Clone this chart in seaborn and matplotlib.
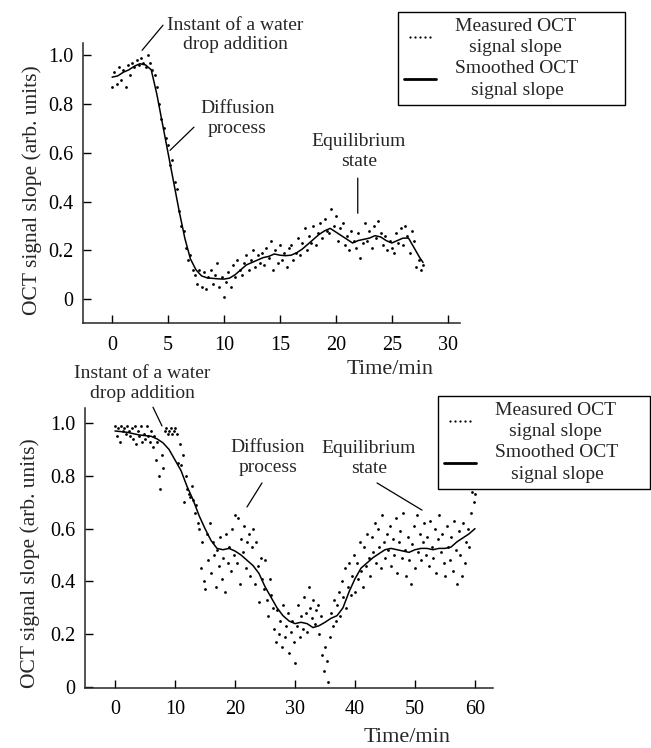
import numpy as np
import pandas as pd
import matplotlib
matplotlib.use("Agg")
import matplotlib.pyplot as plt
from matplotlib.lines import Line2D
from matplotlib.legend_handler import HandlerLine2D
import seaborn as sns

# ---------------- data: top panel ----------------
smooth1_t = [0, 0.5, 1, 1.5, 2, 2.5, 3, 3.5, 4, 4.5, 5, 5.5, 6, 6.5, 7, 7.5, 8, 8.5,
             9, 9.5, 10, 10.5, 11, 11.5, 12, 12.5, 13, 13.5, 14, 14.5, 15, 15.5, 16,
             16.5, 17, 17.5, 18, 18.5, 19, 19.5, 20, 20.5, 21, 21.5, 22, 22.5, 23,
             23.5, 24, 24.5, 25, 25.5, 26, 26.5, 27, 27.5, 27.8]
smooth1_v = [0.91, 0.915, 0.93, 0.94, 0.955, 0.965, 0.96, 0.94, 0.84, 0.72, 0.60,
             0.48, 0.36, 0.25, 0.165, 0.12, 0.095, 0.087, 0.085, 0.083, 0.082,
             0.086, 0.10, 0.12, 0.14, 0.15, 0.16, 0.17, 0.175, 0.185, 0.18, 0.178,
             0.18, 0.19, 0.205, 0.225, 0.245, 0.265, 0.28, 0.29, 0.275, 0.26, 0.245,
             0.23, 0.24, 0.245, 0.25, 0.26, 0.255, 0.24, 0.23, 0.24, 0.25, 0.25,
             0.21, 0.17, 0.15]

meas1_t = [0.0, 0.2, 0.4, 0.6, 0.8, 1.0, 1.2, 1.4, 1.6, 1.8,
           2.0, 2.2, 2.4, 2.6, 2.8, 3.0, 3.2, 3.4, 3.6, 3.8,
           4.0, 4.2, 4.4, 4.6, 4.8, 5.0, 5.2, 5.4, 5.6, 5.8,
           6.0, 6.2, 6.4, 6.6, 6.8, 7.0, 7.2, 7.4, 7.6, 7.8,
           8.0, 8.2, 8.4, 8.6, 8.8, 9.0, 9.2, 9.4, 9.6, 9.8,
           10.0, 10.2, 10.4, 10.6, 10.8, 11.0, 11.2, 11.4, 11.6, 11.8,
           12.0, 12.2, 12.4, 12.6, 12.8, 13.0, 13.2, 13.4, 13.6, 13.8,
           14.0, 14.2, 14.4, 14.6, 14.8, 15.0, 15.2, 15.4, 15.6, 15.8,
           16.0, 16.2, 16.4, 16.6, 16.8, 17.0, 17.2, 17.4, 17.6, 17.8,
           18.0, 18.2, 18.4, 18.6, 18.8, 19.0, 19.2, 19.4, 19.6, 19.8,
           20.0, 20.2, 20.4, 20.6, 20.8, 21.0, 21.2, 21.4, 21.6, 21.8,
           22.0, 22.2, 22.4, 22.6, 22.8, 23.0, 23.2, 23.4, 23.6, 23.8,
           24.0, 24.2, 24.4, 24.6, 24.8, 25.0, 25.2, 25.4, 25.6, 25.8,
           26.0, 26.2, 26.4, 26.6, 26.8, 27.0, 27.2, 27.4, 27.6, 27.8]
meas1_v = [0.87, 0.93, 0.88, 0.95, 0.90, 0.94, 0.87, 0.96, 0.92, 0.97,
           0.95, 0.98, 0.96, 0.99, 0.97, 0.95, 1.00, 0.97, 0.94, 0.92,
           0.87, 0.80, 0.74, 0.70, 0.66, 0.63, 0.55, 0.57, 0.48, 0.45,
           0.36, 0.30, 0.28, 0.21, 0.16, 0.18, 0.12, 0.10, 0.06, 0.12,
           0.05, 0.11, 0.04, 0.09, 0.12, 0.06, 0.10, 0.15, 0.05, 0.09,
           0.01, 0.07, 0.11, 0.05, 0.14, 0.09, 0.16, 0.12, 0.10, 0.15,
           0.18, 0.12, 0.16, 0.20, 0.13, 0.18, 0.15, 0.19, 0.14, 0.21,
           0.17, 0.24, 0.12, 0.20, 0.15, 0.22, 0.16, 0.19, 0.13, 0.21,
           0.22, 0.16, 0.19, 0.25, 0.18, 0.23, 0.29, 0.20, 0.26, 0.23,
           0.30, 0.22, 0.27, 0.31, 0.25, 0.33, 0.28, 0.27, 0.37, 0.30,
           0.34, 0.24, 0.29, 0.31, 0.22, 0.26, 0.20, 0.28, 0.24, 0.21,
           0.27, 0.17, 0.23, 0.31, 0.24, 0.28, 0.21, 0.30, 0.25, 0.32,
           0.27, 0.22, 0.26, 0.20, 0.24, 0.21, 0.19, 0.27, 0.23, 0.29,
           0.22, 0.30, 0.26, 0.19, 0.28, 0.24, 0.13, 0.16, 0.12, 0.14]

# ---------------- data: bottom panel ----------------
smooth2_t = [0, 2, 4, 6, 7, 8, 9, 10, 11, 12, 13, 14, 15, 16, 17, 18, 19, 20, 21,
             22, 23, 24, 25, 26, 27, 28, 29, 30, 31, 32, 33, 34, 35, 36, 37, 38,
             39, 40, 41, 42, 43, 44, 45, 46, 47, 48, 49, 50, 51, 52, 53, 54, 55,
             56, 57, 58, 59, 60]
smooth2_v = [0.97, 0.965, 0.955, 0.95, 0.94, 0.925, 0.90, 0.86, 0.82, 0.76, 0.71,
             0.65, 0.60, 0.555, 0.525, 0.52, 0.525, 0.515, 0.50, 0.48, 0.46, 0.43,
             0.38, 0.34, 0.30, 0.27, 0.25, 0.24, 0.245, 0.24, 0.225, 0.232, 0.245,
             0.26, 0.27, 0.30, 0.36, 0.41, 0.45, 0.47, 0.49, 0.505, 0.52, 0.525,
             0.52, 0.515, 0.51, 0.52, 0.525, 0.525, 0.52, 0.525, 0.525, 0.53, 0.55,
             0.565, 0.58, 0.60]

meas2_t = [0.0, 0.25, 0.5, 0.75, 1.0, 1.25, 1.5, 1.75, 2.0, 2.25,
           2.5, 2.75, 3.0, 3.25, 3.5, 3.75, 4.0, 4.25, 4.5, 4.75,
           5.0, 5.25, 5.5, 5.75, 6.0, 6.25, 6.5, 6.75, 7.0, 7.25,
           7.5, 7.75, 8.0, 8.25, 8.5, 8.75, 9.0, 9.25, 9.5, 9.75,
           10.0, 10.25, 10.5, 10.75, 11.0, 11.25, 11.5, 11.75, 12.0, 12.25,
           12.5, 12.75, 13.0, 13.25, 13.5, 13.75, 14.0, 14.25, 14.5, 14.75,
           15.0, 15.25, 15.5, 15.75, 16.0, 16.25, 16.5, 16.75, 17.0, 17.25,
           17.5, 17.75, 18.0, 18.25, 18.5, 18.75, 19.0, 19.25, 19.5, 19.75,
           20.0, 20.25, 20.5, 20.75, 21.0, 21.25, 21.5, 21.75, 22.0, 22.25,
           22.5, 22.75, 23.0, 23.25, 23.5, 23.75, 24.0, 24.25, 24.5, 24.75,
           25.0, 25.25, 25.5, 25.75, 26.0, 26.25, 26.5, 26.75, 27.0, 27.25,
           27.5, 27.75, 28.0, 28.25, 28.5, 28.75, 29.0, 29.25, 29.5, 29.75,
           30.0, 30.25, 30.5, 30.75, 31.0, 31.25, 31.5, 31.75, 32.0, 32.25,
           32.5, 32.75, 33.0, 33.25, 33.5, 33.75, 34.0, 34.25, 34.5, 34.75,
           35.0, 35.25, 35.5, 35.75, 36.0, 36.25, 36.5, 36.75, 37.0, 37.25,
           37.5, 37.75, 38.0, 38.25, 38.5, 38.75, 39.0, 39.25, 39.5, 39.75,
           40.0, 40.25, 40.5, 40.75, 41.0, 41.25, 41.5, 41.75, 42.0, 42.25,
           42.5, 42.75, 43.0, 43.25, 43.5, 43.75, 44.0, 44.25, 44.5, 44.75,
           45.0, 45.25, 45.5, 45.75, 46.0, 46.25, 46.5, 46.75, 47.0, 47.25,
           47.5, 47.75, 48.0, 48.25, 48.5, 48.75, 49.0, 49.25, 49.5, 49.75,
           50.0, 50.25, 50.5, 50.75, 51.0, 51.25, 51.5, 51.75, 52.0, 52.25,
           52.5, 52.75, 53.0, 53.25, 53.5, 53.75, 54.0, 54.25, 54.5, 54.75,
           55.0, 55.25, 55.5, 55.75, 56.0, 56.25, 56.5, 56.75, 57.0, 57.25,
           57.5, 57.75, 58.0, 58.25, 58.5, 58.75, 59.0, 59.25, 59.5, 59.75,
           60.0]
meas2_v = [0.99, 0.95, 0.98, 0.93, 0.99, 0.97, 0.98, 0.96, 0.99, 0.97,
           0.95, 0.98, 0.94, 0.99, 0.92, 0.97, 0.95, 0.99, 0.93, 0.96,
           0.94, 0.99, 0.95, 0.93, 0.97, 0.91, 0.95, 0.86, 0.93, 0.80,
           0.75, 0.88, 0.83, 0.97, 0.98, 0.96, 0.97, 0.98, 0.96, 0.97,
           0.98, 0.96, 0.85, 0.92, 0.84, 0.88, 0.70, 0.80, 0.75, 0.73,
           0.72, 0.76, 0.71, 0.66, 0.69, 0.62, 0.60, 0.45, 0.55, 0.40,
           0.37, 0.58, 0.48, 0.62, 0.43, 0.55, 0.50, 0.38, 0.52, 0.46,
           0.57, 0.41, 0.49, 0.36, 0.58, 0.47, 0.53, 0.44, 0.60, 0.50,
           0.65, 0.47, 0.64, 0.39, 0.56, 0.51, 0.61, 0.45, 0.55, 0.58,
           0.42, 0.53, 0.60, 0.39, 0.55, 0.46, 0.32, 0.49, 0.41, 0.37,
           0.48, 0.33, 0.27, 0.41, 0.35, 0.30, 0.22, 0.17, 0.29, 0.20,
           0.25, 0.15, 0.31, 0.19, 0.23, 0.28, 0.13, 0.21, 0.25, 0.17,
           0.09, 0.23, 0.31, 0.19, 0.27, 0.22, 0.34, 0.28, 0.21, 0.38,
           0.30, 0.26, 0.33, 0.24, 0.29, 0.31, 0.20, 0.27, 0.12, 0.06,
           0.15, 0.10, 0.02, 0.19, 0.28, 0.23, 0.33, 0.25, 0.31, 0.36,
           0.27, 0.40, 0.34, 0.45, 0.30, 0.38, 0.47, 0.35, 0.42, 0.50,
           0.36, 0.47, 0.41, 0.55, 0.44, 0.38, 0.53, 0.46, 0.58, 0.49,
           0.42, 0.57, 0.51, 0.62, 0.47, 0.60, 0.53, 0.45, 0.65, 0.55,
           0.49, 0.58, 0.52, 0.61, 0.46, 0.56, 0.50, 0.64, 0.43, 0.55,
           0.59, 0.49, 0.66, 0.52, 0.42, 0.57, 0.48, 0.39, 0.54, 0.61,
           0.45, 0.65, 0.51, 0.58, 0.48, 0.55, 0.62, 0.50, 0.57, 0.46,
           0.63, 0.53, 0.49, 0.60, 0.43, 0.56, 0.65, 0.51, 0.58, 0.47,
           0.42, 0.61, 0.53, 0.48, 0.57, 0.44, 0.63, 0.52, 0.39, 0.59,
           0.50, 0.42, 0.62, 0.47, 0.55, 0.60, 0.53, 0.66, 0.74, 0.70,
           0.73]

xticks1 = [0, 5, 10, 15, 20, 25, 30]
xticks2 = [0, 10, 20, 30, 40, 50, 60]
yticks = [0, 0.2, 0.4, 0.6, 0.8, 1.0]
ytick_labels = ["0", "0.2", "0.4", "0.6", "0.8", "1.0"]

ylabel = "OCT signal slope (arb. units)"
xlabel = "Time/min"
leg_meas = "Measured OCT\nsignal slope"
leg_smooth = "Smoothed OCT\nsignal slope"
ann_drop = "Instant of a water\ndrop addition"
ann_diff = "Diffusion\nprocess"
ann_eq = "Equilibrium\nstate"

# ---------------- style ----------------
sns.set_style("ticks")
plt.rcParams["font.family"] = ["Liberation Serif", "DejaVu Serif"]
plt.rcParams["axes.linewidth"] = 1.1

fig = plt.figure(figsize=(6.51, 7.48), dpi=100)
ax1 = fig.add_axes([83 / 651, 1 - 323 / 748, 377 / 651, 280 / 748])
ax2 = fig.add_axes([85 / 651, 1 - 688 / 748, 408 / 651, 280 / 748])

df1m = pd.DataFrame({"t": meas1_t, "v": meas1_v})
df1s = pd.DataFrame({"t": smooth1_t, "v": smooth1_v})
df2m = pd.DataFrame({"t": meas2_t, "v": meas2_v})
df2s = pd.DataFrame({"t": smooth2_t, "v": smooth2_v})

for ax, dm, ds in [(ax1, df1m, df1s), (ax2, df2m, df2s)]:
    sns.scatterplot(data=dm, x="t", y="v", ax=ax, s=4, color="black",
                    linewidth=0, legend=False)
    sns.lineplot(data=ds, x="t", y="v", ax=ax, color="black", lw=1.1,
                 legend=False)
    sns.despine(ax=ax)
    ax.tick_params(direction="in", length=6, width=1.0, labelsize=14.5,
                   colors="black")
    ax.tick_params(axis="x", pad=9)
    ax.tick_params(axis="y", pad=7)
    ax.set_yticks(yticks)
    ax.set_yticklabels(ytick_labels)
    ax.set_ylabel(ylabel, fontsize=15.5)
    ax.set_xlabel(xlabel, fontsize=16)

ax1.set_xlim(-2.6, 31.1)
ax1.set_ylim(-0.098, 1.05)
ax1.set_xticks(xticks1)
ax2.set_xlim(-5, 63)
ax2.set_ylim(-0.004, 1.057)
ax2.set_xticks(xticks2)

ax1.yaxis.set_label_coords(-0.109, 0.475)
ax2.yaxis.set_label_coords(-0.11, 0.446)
ax1.xaxis.set_label_coords(0.814, -0.132)
ax2.xaxis.set_label_coords(0.79, -0.143)

# ---------------- annotations ----------------
ann_kw = dict(ha="center", va="center", fontsize=14, linespacing=1.2)
line_kw = dict(arrowstyle="-", lw=0.9, color="black", shrinkA=0, shrinkB=0)


def leader(ax, p0, p1):
    ax.annotate("", xy=p1, xytext=p0, arrowprops=line_kw,
                annotation_clip=False)


ax1.text(11.0, 1.082, ann_drop, **ann_kw)
leader(ax1, (4.55, 1.123), (2.68, 1.02))
ax1.text(11.2, 0.74, ann_diff, **ann_kw)
leader(ax1, (7.32, 0.705), (5.18, 0.61))
ax1.text(22.05, 0.605, ann_eq, **ann_kw)
leader(ax1, (21.96, 0.496), (21.96, 0.352))

ax2.text(4.5, 1.15, ann_drop, **ann_kw)
leader(ax2, (6.33, 1.06), (7.83, 0.989))
ax2.text(25.5, 0.869, ann_diff, **ann_kw)
leader(ax2, (24.5, 0.773), (22.0, 0.682))
ax2.text(42.3, 0.866, ann_eq, **ann_kw)
leader(ax2, (43.67, 0.773), (51.17, 0.67))

# ---------------- legends ----------------
handles = [Line2D([], [], color="black", linestyle="none", marker="o",
                  markersize=1.6, markeredgewidth=0),
           Line2D([], [], color="black", lw=2.0)]
hmap = {handles[0]: HandlerLine2D(numpoints=5, marker_pad=0.3)}
for ax, box in [(ax1, (398 / 651, 1 - 108 / 748, 227 / 651, 96 / 748)),
                (ax2, (438 / 651, 1 - 492 / 748, 212 / 651, 96 / 748))]:
    leg = ax.legend(handles, [leg_meas, leg_smooth], loc="upper left",
                    bbox_to_anchor=box, bbox_transform=fig.transFigure,
                    mode="expand", handler_map=hmap,
                    fontsize=14, frameon=True, fancybox=False,
                    edgecolor="black", framealpha=1, handlelength=1.65,
                    handletextpad=1.0, borderpad=0.3, labelspacing=0.2,
                    borderaxespad=0)
    leg.get_frame().set_linewidth(1.0)
    for txt in leg.get_texts():
        txt.set_multialignment("center")
        txt.set_linespacing(1.35)

fig.savefig("out.png", dpi=100)
